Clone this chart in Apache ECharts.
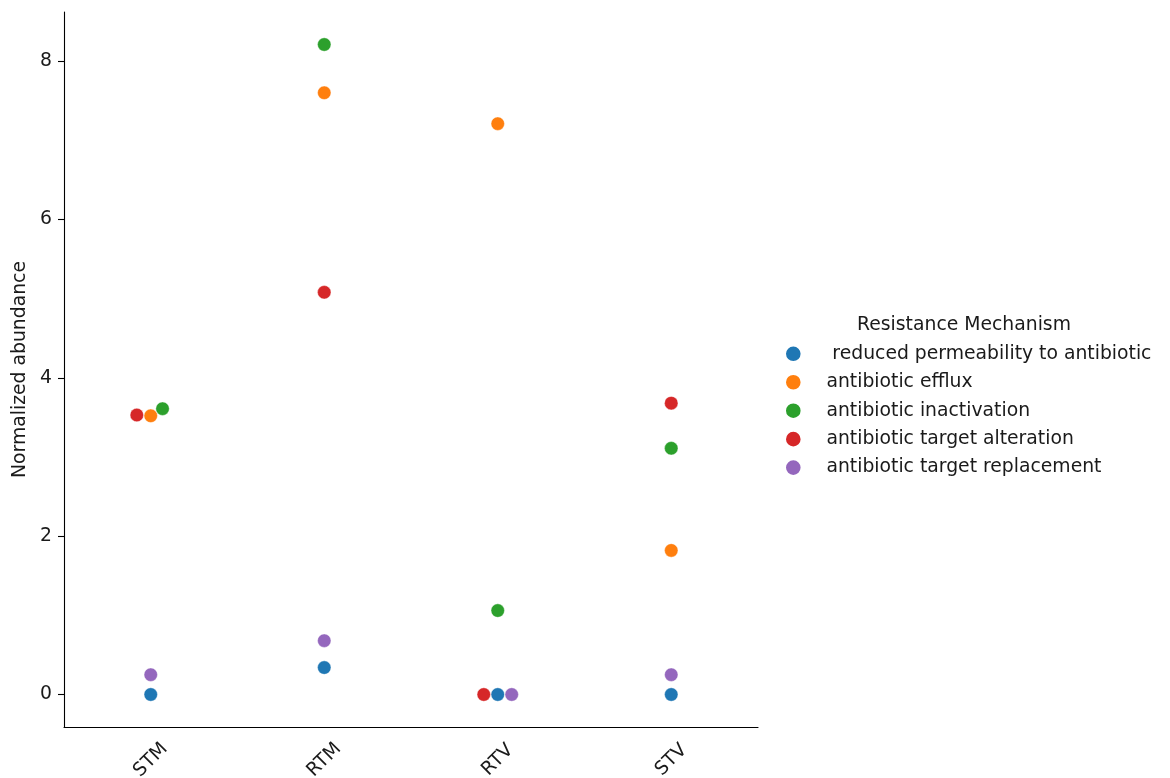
<!DOCTYPE html>
<html>
<head>
<meta charset="utf-8">
<script src="https://cdn.jsdelivr.net/npm/echarts@6/dist/echarts.min.js"></script>
<style>
  html, body { margin: 0; padding: 0; background: #ffffff; }
  #chart { width: 1170px; height: 778px; }
</style>
</head>
<body>
<div id="chart"></div>
<script>
// Sampling sites on the x axis
const sites = ['STM', 'RTM', 'RTV', 'STV'];

// Resistance mechanisms (legend order)
const mechanisms = [
  ' reduced permeability to antibiotic',
  'antibiotic efflux',
  'antibiotic inactivation',
  'antibiotic target alteration',
  'antibiotic target replacement'
];

// Normalized abundance per site (STM, RTM, RTV, STV)
const reducedPermeability = [0.00, 0.34, 0.00, 0.00];
const efflux              = [3.52, 7.60, 7.21, 1.82];
const inactivation        = [3.61, 8.21, 1.06, 3.11];
const targetAlteration    = [3.53, 5.08, 0.00, 3.68];
const targetReplacement   = [0.25, 0.68, 0.00, 0.25];

const yTicks = [0, 2, 4, 6, 8];

const seriesValues = [reducedPermeability, efflux, inactivation, targetAlteration, targetReplacement];
const palette = ['#1f77b4', '#ff7f0e', '#2ca02c', '#d62728', '#9467bd'];

const FONT = 'DejaVu Sans';
const FS = 18.8;       // base font size
const MARKER = 13.5;   // marker diameter in px
const SWARM_D = 13.3;  // collision diameter used by the swarm layout

// Axis limits with 5% padding around the data range
const allVals = seriesValues.flat();
const dMin = Math.min(...allVals), dMax = Math.max(...allVals);
const pad = (dMax - dMin) * 0.05;
const yMin = dMin - pad, yMax = dMax + pad;

const chart = echarts.init(document.getElementById('chart'), null, { renderer: 'canvas' });

function buildSeries(offsets) {
  return seriesValues.map((vals, k) => ({
    name: mechanisms[k],
    type: 'scatter',
    symbol: 'circle',
    symbolSize: MARKER,
    itemStyle: { color: palette[k], opacity: 1, borderColor: '#ffffff', borderWidth: 0.4 },
    emphasis: { disabled: true },
    data: vals.map((v, c) => ({ value: [c, v], symbolOffset: [offsets ? offsets[k][c] : 0, 0] }))
  }));
}

const option = {
  animation: false,
  backgroundColor: '#ffffff',
  textStyle: { fontFamily: FONT },
  grid: { left: 64, right: 412, top: 12, bottom: 51, containLabel: false, outerBoundsMode: 'none' },
  xAxis: {
    type: 'category',
    data: sites,
    boundaryGap: true,
    axisLine: { onZero: false, lineStyle: { color: '#000000', width: 1.1 } },
    axisTick: { alignWithLabel: true, length: 6, lineStyle: { color: '#000000', width: 1.1 } },
    axisLabel: {
      rotate: 45, align: 'center', verticalAlign: 'middle', margin: 33,
      fontSize: FS, color: '#1a1a1a', fontFamily: FONT
    },
    splitLine: { show: false }
  },
  yAxis: {
    type: 'value',
    min: yMin,
    max: yMax,
    name: 'Normalized abundance',
    nameLocation: 'middle',
    nameGap: 34,
    nameTextStyle: { fontSize: FS, color: '#1a1a1a', fontFamily: FONT },
    axisLine: { show: true, onZero: false, lineStyle: { color: '#000000', width: 1.1 } },
    axisTick: { show: true, length: 6, customValues: yTicks, lineStyle: { color: '#000000', width: 1.1 } },
    axisLabel: { customValues: yTicks, margin: 12, fontSize: FS, color: '#1a1a1a', fontFamily: FONT },
    splitLine: { show: false }
  },
  legend: {
    orient: 'vertical',
    left: 784,
    top: 344.3,
    padding: 0,
    icon: 'circle',
    itemWidth: 16.6,
    itemHeight: 16.6,
    itemGap: 9.45,
    data: mechanisms,
    textStyle: { fontSize: FS, color: '#1a1a1a', fontFamily: FONT, padding: [0, 0, 0, 19.8] }
  },
  graphic: [{
    type: 'text',
    x: 964,
    y: 325,
    style: {
      text: 'Resistance Mechanism',
      font: FS + 'px "DejaVu Sans"',
      fill: '#1a1a1a',
      align: 'center',
      verticalAlign: 'middle'
    }
  }],
  series: buildSeries(null)
};

chart.setOption(option);

// Beeswarm layout: spread points of the same site sideways so they do not overlap
function swarmOffsets() {
  const offsets = seriesValues.map(a => a.map(() => 0));
  sites.forEach((s, c) => {
    const pts = seriesValues.map((vals, k) => ({
      k, v: vals[c], y: chart.convertToPixel({ yAxisIndex: 0 }, vals[c])
    }));
    pts.sort((a, b) => a.v - b.v);
    const placed = [];
    const d2 = SWARM_D * SWARM_D;
    pts.forEach(p => {
      const neighbors = placed.filter(q => Math.abs(q.y - p.y) < SWARM_D);
      const cands = [0];
      let leftFirst = true;
      neighbors.forEach(q => {
        const dy = p.y - q.y;
        const dx = Math.sqrt(Math.max(d2 - dy * dy, 0)) * 1.05;
        const l = q.x - dx, r = q.x + dx;
        if (leftFirst) cands.push(l, r); else cands.push(r, l);
        leftFirst = !leftFirst;
      });
      const sorted = cands.map((x, i) => ({ x, i }))
        .sort((a, b) => (Math.abs(a.x) - Math.abs(b.x)) || (a.i - b.i));
      let chosen = 0;
      for (const cand of sorted) {
        const ok = neighbors.every(q => {
          const dx = cand.x - q.x, dy = p.y - q.y;
          return dx * dx + dy * dy >= d2 - 1e-6;
        });
        if (ok) { chosen = cand.x; break; }
      }
      p.x = chosen;
      placed.push(p);
      offsets[p.k][c] = chosen;
    });
  });
  return offsets;
}

chart.setOption({ series: buildSeries(swarmOffsets()) });
</script>
</body>
</html>
